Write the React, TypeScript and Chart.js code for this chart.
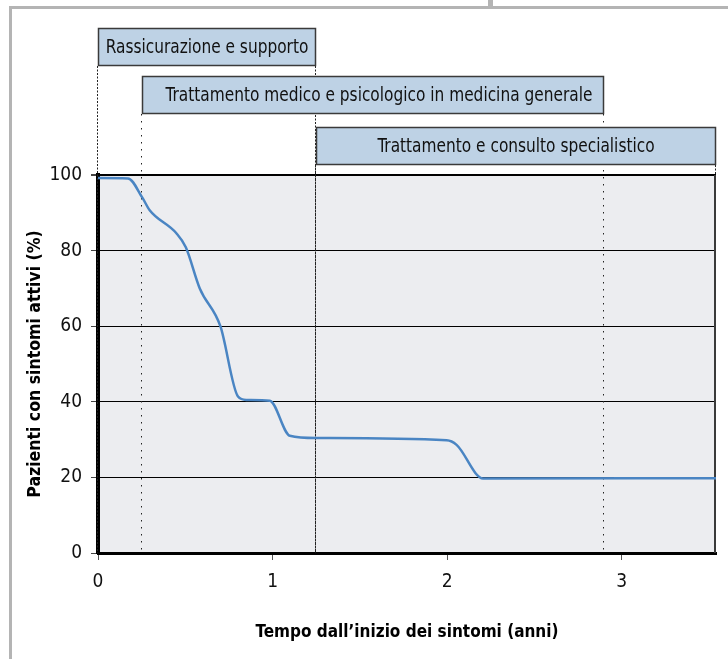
import React, { useEffect, useRef } from "react";
import { Chart, registerables } from "chart.js";

Chart.register(...registerables);

// ---- data ----
const years = [0, 0.172, 0.254, 0.296, 0.449, 0.503, 0.583, 0.701, 0.802, 0.85, 0.984, 1.099, 1.252, 1.997, 2.054, 2.206, 3.54];
const patients = [99.2, 99.1, 94.0, 90.7, 84.6, 80.9, 70.0, 60.0, 41.4, 40.5, 40.3, 31.0, 30.4, 29.8, 28.6, 19.7, 19.8];
const xTickValues = [0, 1, 2, 3];
const yTickValues = [0, 20, 40, 60, 80, 100];
const X_MAX = 3.54;
const phaseLabels = [
  "Rassicurazione e supporto",
  "Trattamento medico e psicologico in medicina generale",
  "Trattamento e consulto specialistico",
];
const phaseStart = [0, 0.25, 1.25];
const phaseEnd = [1.25, 2.9, X_MAX];

const FONT = '"DejaVu Sans Condensed", "Liberation Sans Narrow", sans-serif';

// layout of phase boxes (pixels, above plot area)
const BOX_TOPS = [28, 76, 127];
const BOX_H = 38;
const TEXT_SQUEEZE = 0.9;

const phasesPlugin = {
  id: "phases",
  beforeDraw(chart: any) {
    const { ctx, chartArea } = chart;
    ctx.save();
    ctx.fillStyle = "#ECEDF0";
    ctx.fillRect(chartArea.left, chartArea.top, chartArea.right - chartArea.left, chartArea.bottom - chartArea.top);
    ctx.restore();
  },
  beforeDatasetsDraw(chart: any) {
    const { ctx, chartArea, scales } = chart;
    const x = scales.x;
    ctx.save();
    ctx.strokeStyle = "#222";
    ctx.lineWidth = 1;
    const lines: { v: number; top: number; dash: number[] }[] = [];
    phaseStart.forEach((s, i) => lines.push({ v: s, top: BOX_TOPS[i] + BOX_H, dash: i === 1 ? [1.5, 5.5] : [2, 1.5] }));
    phaseEnd.forEach((e, i) => lines.push({ v: e, top: BOX_TOPS[i] + BOX_H, dash: i === 1 ? [1.5, 5.5] : [2, 1.5] }));
    lines.forEach((l) => {
      const px = Math.round(x.getPixelForValue(l.v)) - 0.5;
      ctx.setLineDash(l.dash);
      ctx.beginPath();
      ctx.moveTo(px, l.top);
      ctx.lineTo(px, chartArea.bottom);
      ctx.stroke();
    });
    ctx.setLineDash([]);
    // right border of plot
    ctx.strokeStyle = "#3a3a3a";
    ctx.lineWidth = 2;
    ctx.beginPath();
    ctx.moveTo(chartArea.right - 1, chartArea.top);
    ctx.lineTo(chartArea.right - 1, chartArea.bottom);
    ctx.stroke();
    ctx.restore();
  },
  afterDraw(chart: any) {
    const { ctx, scales } = chart;
    const x = scales.x;
    ctx.save();
    phaseLabels.forEach((label, i) => {
      const x0 = Math.round(x.getPixelForValue(phaseStart[i]));
      const x1 = Math.round(x.getPixelForValue(phaseEnd[i]));
      const y0 = BOX_TOPS[i];
      ctx.fillStyle = "#BED2E5";
      ctx.fillRect(x0, y0, x1 - x0, BOX_H);
      ctx.strokeStyle = "#3a3a3a";
      ctx.lineWidth = 1.5;
      ctx.strokeRect(x0 + 0.5, y0 + 0.5, x1 - x0 - 1, BOX_H - 1);
      ctx.fillStyle = "#111";
      ctx.font = `19px ${FONT}`;
      ctx.textAlign = "center";
      ctx.textBaseline = "middle";
      const cx = (x0 + x1) / 2 + (i === 1 ? 6 : 0);
      ctx.save();
      ctx.translate(cx, y0 + BOX_H / 2 + 1);
      ctx.scale(TEXT_SQUEEZE, 1);
      ctx.fillText(label, 0, 0);
      ctx.restore();
    });
    ctx.restore();
  },
};

export default function App() {
  const ref = useRef<HTMLCanvasElement | null>(null);

  useEffect(() => {
    if (!ref.current) return;
    const chart = new Chart(ref.current, {
      type: "line",
      data: {
        datasets: [
          {
            data: years.map((y, i) => ({ x: y, y: patients[i] })),
            borderColor: "#4A85C3",
            borderWidth: 2.5,
            pointRadius: 0,
            cubicInterpolationMode: "monotone",
            fill: false,
          },
        ],
      },
      options: {
        animation: false,
        responsive: false,
        maintainAspectRatio: false,
        layout: { padding: { top: 175, right: 12, left: 0, bottom: 0 } },
        plugins: { legend: { display: false }, tooltip: { enabled: false } },
        scales: {
          x: {
            type: "linear",
            min: 0,
            max: X_MAX,
            afterFit: (s: any) => {
              s.height = 106;
            },
            afterBuildTicks: (s: any) => {
              s.ticks = xTickValues.map((v) => ({ value: v }));
            },
            ticks: {
              includeBounds: false,
              color: "#111",
              font: { family: FONT, size: 19 },
              padding: 11,
              maxRotation: 0,
              callback: (v: any) => String(v),
            },
            grid: { drawOnChartArea: false, drawTicks: true, tickLength: 7, tickColor: "#555", tickWidth: 1 },
            border: { display: true, color: "#000", width: 3 },
            title: {
              display: true,
              text: "Tempo dall\u2019inizio dei sintomi (anni)",
              color: "#000",
              font: { family: FONT, size: 17, weight: "bold" },
              padding: { top: 0, bottom: 16 },
            },
          },
          y: {
            min: 0,
            max: 100,
            afterFit: (s: any) => {
              s.width = 98;
            },
            afterBuildTicks: (s: any) => {
              s.ticks = yTickValues.map((v) => ({ value: v }));
            },
            ticks: {
              color: "#111",
              font: { family: FONT, size: 19 },
              padding: 9,
            },
            grid: {
              drawTicks: true,
              tickLength: 7,
              tickColor: "#444",
              color: "#000",
              lineWidth: (c: any) => (c.tick && c.tick.value === 100 ? 2 : 1),
            },
            border: { display: true, color: "#000", width: 4 },
            title: {
              display: true,
              text: "Pazienti con sintomi attivi (%)",
              color: "#000",
              font: { family: FONT, size: 17.5, weight: "bold" },
              padding: { top: 25, bottom: 0 },
            },
          },
        },
      },
      plugins: [phasesPlugin],
    } as any);
    return () => chart.destroy();
  }, []);

  const frame = "#B4B4B4";
  return (
    <div style={{ position: "fixed", left: 0, top: 0, width: 728, height: 659, background: "#fff" }}>
      <div style={{ position: "absolute", left: 9, top: 6, width: 3, height: 653, background: frame }} />
      <div style={{ position: "absolute", left: 9, top: 6, width: 719, height: 3, background: frame }} />
      <div style={{ position: "absolute", left: 488, top: 0, width: 5, height: 8, background: frame }} />
      <canvas ref={ref} width={728} height={659} style={{ position: "absolute", left: 0, top: 0, display: "block" }} />
    </div>
  );
}
